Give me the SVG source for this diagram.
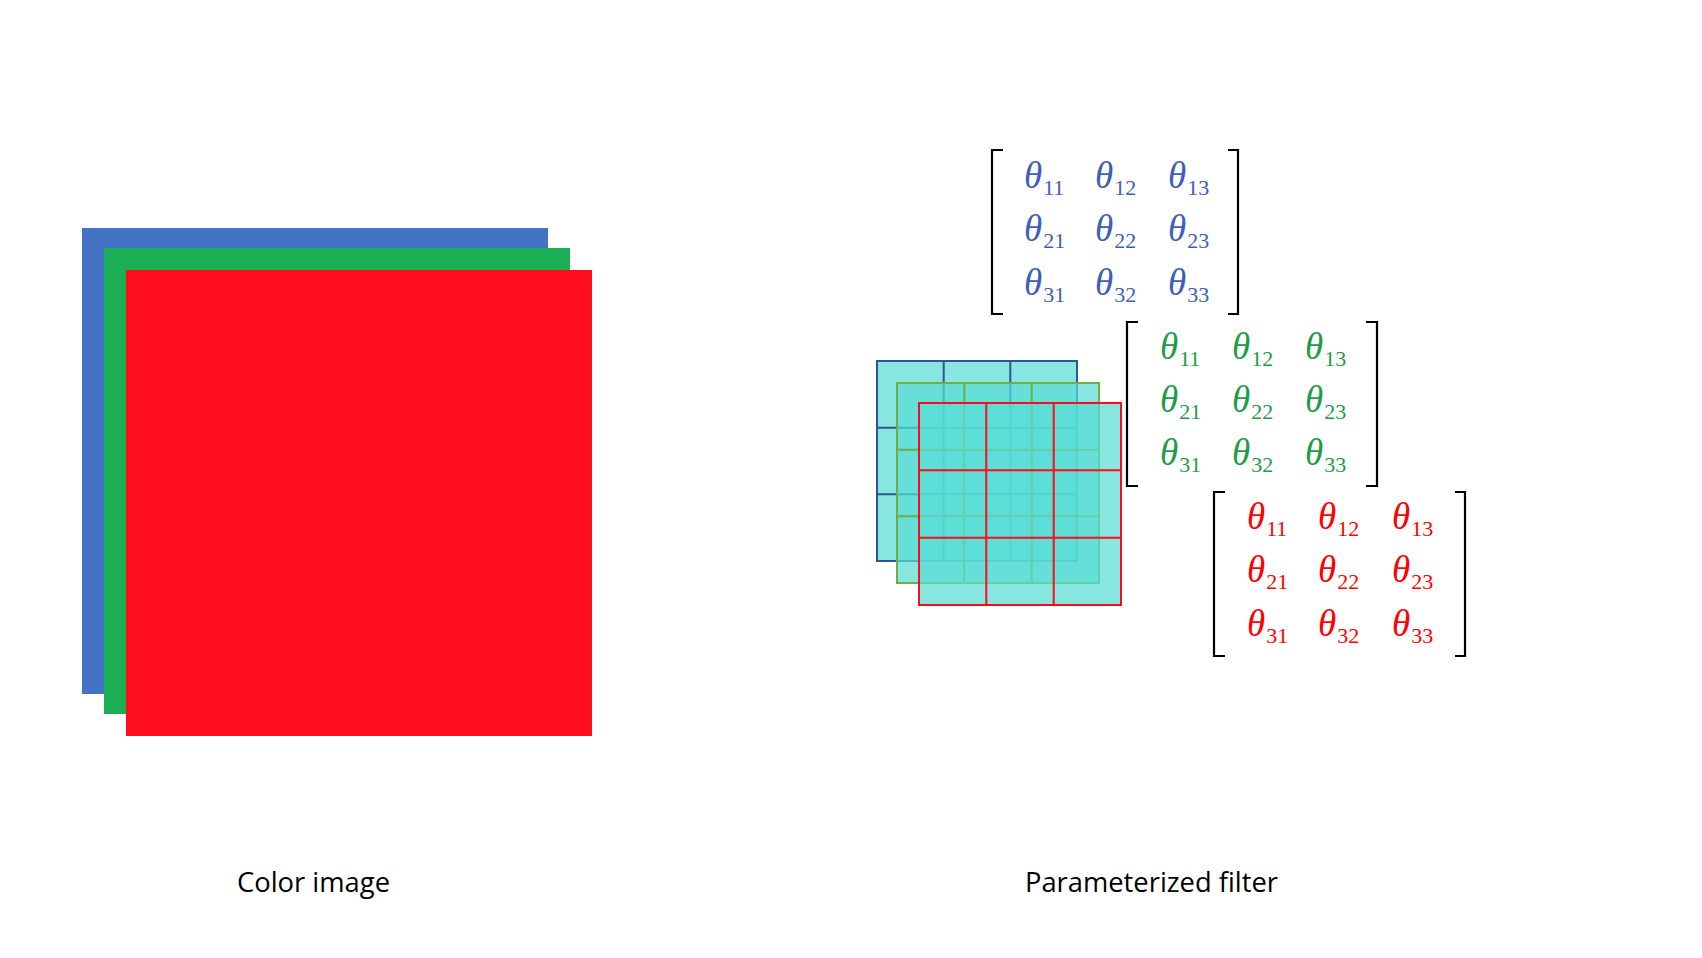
<svg xmlns="http://www.w3.org/2000/svg" width="1702" height="958" viewBox="0 0 1702 958">
<style>
.lbl{font-family:"Open Sans","Liberation Sans",sans-serif;font-size:27px;fill:#000}
.th{font-family:"Liberation Serif","Times New Roman",serif;font-style:italic;font-size:37px}
.sb{font-family:"Liberation Serif","Times New Roman",serif;font-style:normal;font-size:22px}
.brk{fill:none;stroke:#000;stroke-width:2.2}
.cell{fill:rgb(88,220,213);fill-opacity:0.714}
.tb{fill:#3D60B6}.tg{fill:#1F9C48}.tr{fill:#FF0000}
</style>
<rect width="1702" height="958" fill="#fff"/>
<g id="color-image">
<rect x="82" y="228" width="466" height="466" fill="#4472C4"/>
<rect x="104" y="248" width="466" height="466" fill="#1BAF54"/>
<rect x="126" y="270" width="466" height="466" fill="#FF0E1F"/>
</g>
<g id="filter-stack">
<g id="filter-blue">
<rect class="cell" x="877" y="361" width="200" height="200"/>
<path d="M877 361H1077V561H877Z M943.7 361V561 M1010.3 361V561 M877 427.7H1077 M877 494.3H1077" fill="none" stroke="#2F5597" stroke-width="2"/>
</g>
<g id="filter-green">
<rect class="cell" x="897" y="383" width="202" height="200"/>
<path d="M897 383H1099V583H897Z M964.3 383V583 M1031.7 383V583 M897 449.7H1099 M897 516.3H1099" fill="none" stroke="#70AD47" stroke-width="2"/>
</g>
<g id="filter-red">
<rect class="cell" x="919" y="403" width="202" height="202"/>
<path d="M919 403H1121V605H919Z M986.3 403V605 M1053.7 403V605 M919 470.3H1121 M919 537.7H1121" fill="none" stroke="#FF0A1A" stroke-width="2"/>
</g>
</g>
<g id="matrix-blue" class="tb">
<path class="brk" d="M1003 150H992V314H1003 M1228 150H1238V314H1228"/>
<text class="th" x="1024" y="188">θ<tspan class="sb" dy="7" dx="1">11</tspan></text>
<text class="th" x="1095" y="188">θ<tspan class="sb" dy="7" dx="1">12</tspan></text>
<text class="th" x="1168" y="188">θ<tspan class="sb" dy="7" dx="1">13</tspan></text>
<text class="th" x="1024" y="241">θ<tspan class="sb" dy="7" dx="1">21</tspan></text>
<text class="th" x="1095" y="241">θ<tspan class="sb" dy="7" dx="1">22</tspan></text>
<text class="th" x="1168" y="241">θ<tspan class="sb" dy="7" dx="1">23</tspan></text>
<text class="th" x="1024" y="295">θ<tspan class="sb" dy="7" dx="1">31</tspan></text>
<text class="th" x="1095" y="295">θ<tspan class="sb" dy="7" dx="1">32</tspan></text>
<text class="th" x="1168" y="295">θ<tspan class="sb" dy="7" dx="1">33</tspan></text>
</g>
<g id="matrix-green" class="tg">
<path class="brk" d="M1138 322H1127V486H1138 M1366 322H1377V486H1366"/>
<text class="th" x="1160" y="359">θ<tspan class="sb" dy="7" dx="1">11</tspan></text>
<text class="th" x="1232" y="359">θ<tspan class="sb" dy="7" dx="1">12</tspan></text>
<text class="th" x="1305" y="359">θ<tspan class="sb" dy="7" dx="1">13</tspan></text>
<text class="th" x="1160" y="412">θ<tspan class="sb" dy="7" dx="1">21</tspan></text>
<text class="th" x="1232" y="412">θ<tspan class="sb" dy="7" dx="1">22</tspan></text>
<text class="th" x="1305" y="412">θ<tspan class="sb" dy="7" dx="1">23</tspan></text>
<text class="th" x="1160" y="465">θ<tspan class="sb" dy="7" dx="1">31</tspan></text>
<text class="th" x="1232" y="465">θ<tspan class="sb" dy="7" dx="1">32</tspan></text>
<text class="th" x="1305" y="465">θ<tspan class="sb" dy="7" dx="1">33</tspan></text>
</g>
<g id="matrix-red" class="tr">
<path class="brk" d="M1225 492H1214V656H1225 M1455 492H1465V656H1455"/>
<text class="th" x="1247" y="529">θ<tspan class="sb" dy="7" dx="1">11</tspan></text>
<text class="th" x="1318" y="529">θ<tspan class="sb" dy="7" dx="1">12</tspan></text>
<text class="th" x="1392" y="529">θ<tspan class="sb" dy="7" dx="1">13</tspan></text>
<text class="th" x="1247" y="582">θ<tspan class="sb" dy="7" dx="1">21</tspan></text>
<text class="th" x="1318" y="582">θ<tspan class="sb" dy="7" dx="1">22</tspan></text>
<text class="th" x="1392" y="582">θ<tspan class="sb" dy="7" dx="1">23</tspan></text>
<text class="th" x="1247" y="636">θ<tspan class="sb" dy="7" dx="1">31</tspan></text>
<text class="th" x="1318" y="636">θ<tspan class="sb" dy="7" dx="1">32</tspan></text>
<text class="th" x="1392" y="636">θ<tspan class="sb" dy="7" dx="1">33</tspan></text>
</g>
<g id="labels">
<text class="lbl" x="237" y="892" textLength="153" lengthAdjust="spacingAndGlyphs">Color image</text>
<text class="lbl" x="1025" y="892" textLength="253" lengthAdjust="spacingAndGlyphs">Parameterized filter</text>
</g>
<g id="connectors"/>
</svg>
